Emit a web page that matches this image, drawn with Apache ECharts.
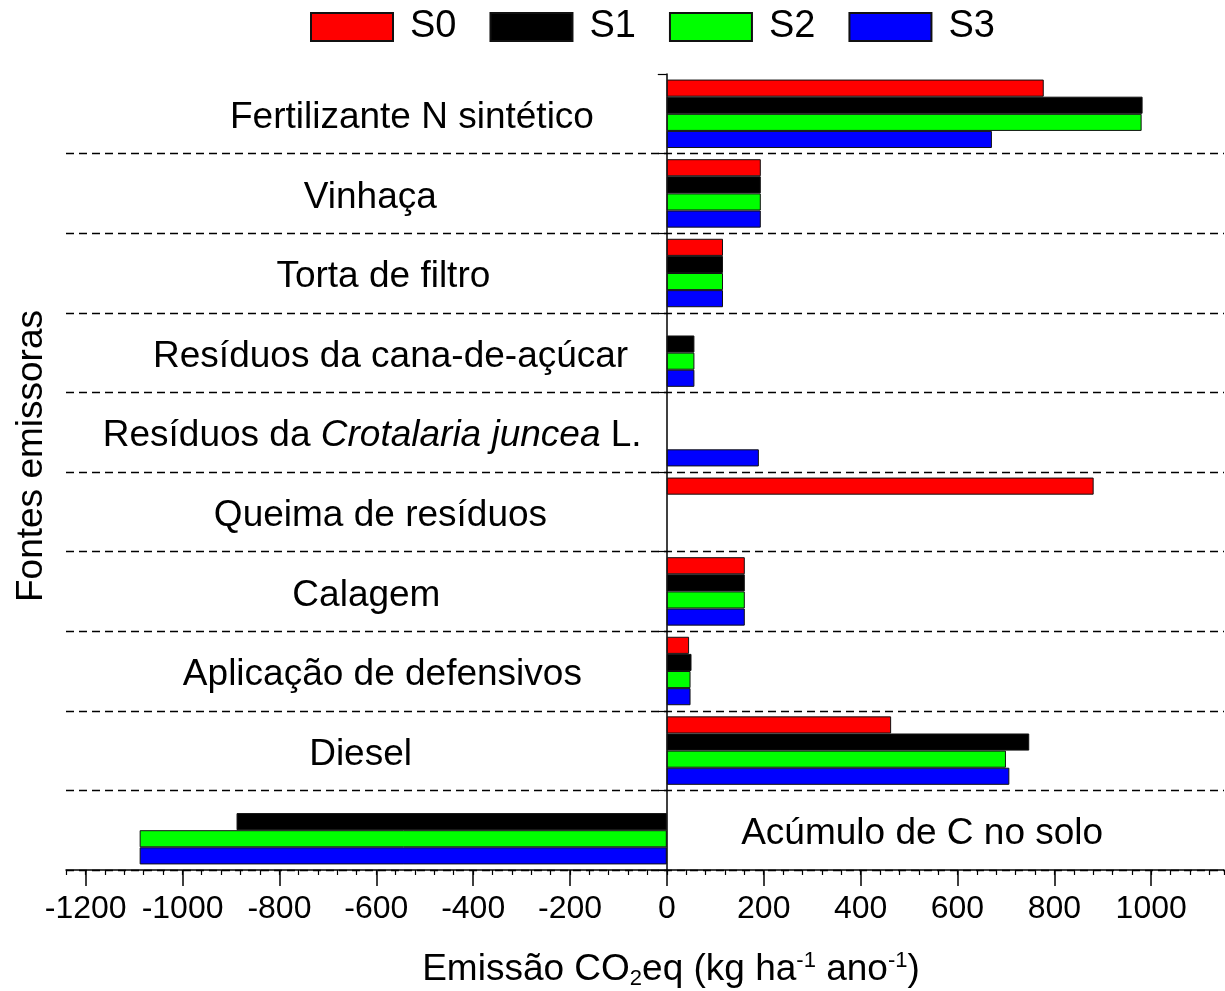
<!DOCTYPE html>
<html>
<head>
<meta charset="utf-8">
<script src="https://cdn.jsdelivr.net/npm/echarts@6/dist/echarts.min.js"></script>
<style>
html,body{margin:0;padding:0;background:#fff;}
#chart{width:1225px;height:991px;}
</style>
</head>
<body>
<div id="chart"></div>
<script>
// ---- data ----
const categories = [
  'Fertilizante N sintético',
  'Vinhaça',
  'Torta de filtro',
  'Resíduos da cana-de-açúcar',
  'Resíduos da Crotalaria juncea L.',
  'Queima de resíduos',
  'Calagem',
  'Aplicação de defensivos',
  'Diesel',
  'Acúmulo de C no solo'
];
const seriesNames = ['S0', 'S1', 'S2', 'S3'];
const S0 = [778, 194, 116, null, null, 881, 161, 46, 463, null];
const S1 = [982, 194, 116, 57, null, null, 161, 51, 748, -888];
const S2 = [980, 194, 116, 57, null, null, 161, 49, 700, -1088];
const S3 = [671, 194, 116, 57, 190, null, 161, 49, 707, -1088];
const xTickLabels = [-1200, -1000, -800, -600, -400, -200, 0, 200, 400, 600, 800, 1000];

// label texts (rich) and their anchor along the value axis
const labelTexts = [
  'Fertilizante N sintético',
  'Vinhaça',
  'Torta de filtro',
  'Resíduos da cana-de-açúcar',
  '{n|Resíduos da }{i|Crotalaria juncea}{n| L.}',
  'Queima de resíduos',
  'Calagem',
  'Aplicação de defensivos',
  'Diesel',
  'Acúmulo de C no solo'
];
const labelAnchorX = [-526, -612, -585, -570, -608, -591, -620, -587, -632, 527];

const colors = ['#ff0000', '#000000', '#00ff00', '#0000ff'];
const FONT = '"Liberation Sans", Arial, Helvetica, sans-serif';

const chart = echarts.init(document.getElementById('chart'), null, {renderer: 'canvas'});

const barSeries = [S0, S1, S2, S3].map((d, i) => ({
  name: seriesNames[i],
  type: 'bar',
  xAxisIndex: 0,
  yAxisIndex: 0,
  data: d,
  barGap: '0%',
  barCategoryGap: '14%',
  itemStyle: {color: colors[i], borderColor: '#111', borderWidth: 1},
  z: 3
}));

const option = {
  animation: false,
  backgroundColor: '#fff',
  textStyle: {fontFamily: FONT},
  legend: {
    top: 3,
    left: 305,
    itemWidth: 82,
    itemHeight: 28,
    itemGap: 33,
    icon: 'rect',
    data: seriesNames,
    textStyle: {fontSize: 38, color: '#000', fontFamily: FONT, padding: [0, 0, 0, 12]}
  },
  grid: [
    {left: 66, right: 1, top: 74, bottom: 121},
    {left: 85.7, right: 73.8, top: 74, bottom: 121}
  ],
  xAxis: [
    {
      gridIndex: 0,
      type: 'value',
      min: -1240,
      max: 1150,
      interval: 40,
      axisLine: {show: true, lineStyle: {color: '#000', width: 1.5}},
      axisTick: {show: true, length: 5, lineStyle: {color: '#000', width: 1.2}},
      axisLabel: {show: false},
      splitLine: {show: false}
    },
    {
      gridIndex: 1,
      type: 'value',
      min: xTickLabels[0],
      max: xTickLabels[xTickLabels.length - 1],
      interval: 200,
      axisLine: {show: false},
      axisTick: {show: true, length: 16, lineStyle: {color: '#000', width: 1.5}},
      axisLabel: {show: true, fontSize: 32, color: '#000', margin: 23, fontFamily: FONT,
                  formatter: v => String(v)},
      splitLine: {show: false}
    }
  ],
  yAxis: [
    {
      gridIndex: 0,
      type: 'category',
      inverse: true,
      data: categories,
      boundaryGap: true,
      axisLine: {show: true, onZero: true, lineStyle: {color: '#000', width: 1.5}},
      axisTick: {show: true, length: 9, lineStyle: {color: '#000', width: 1.2}},
      axisLabel: {show: false},
      splitLine: {
        show: true,
        interval: function (index) { return index !== 0; },
        lineStyle: {color: '#000', width: 1.3, type: [8, 5]}
      }
    },
    {
      gridIndex: 1,
      type: 'value',
      show: false
    }
  ],
  graphic: [
    {
      type: 'text',
      x: 671,
      y: 970,
      z: 10,
      style: {
        text: '{m|Emissão CO}{sub|2}{m|eq (kg ha}{sup|-1}{m| ano}{sup|-1}{m|)}',
        align: 'center',
        verticalAlign: 'middle',
        rich: {
          m: {fontSize: 37, fontFamily: FONT, fill: '#000', lineHeight: 40},
          sub: {fontSize: 22, fontFamily: FONT, fill: '#000', lineHeight: 10, verticalAlign: 'bottom'},
          sup: {fontSize: 22, fontFamily: FONT, fill: '#000', lineHeight: 10, verticalAlign: 'top'}
        }
      }
    },
    {
      type: 'text',
      x: 32,
      y: 456,
      rotation: Math.PI / 2,
      z: 10,
      style: {
        text: 'Fontes emissoras',
        font: '37px ' + FONT,
        fill: '#000',
        align: 'center',
        verticalAlign: 'middle'
      }
    }
  ],
  series: barSeries.concat([
    {
      type: 'scatter',
      name: 'labels',
      xAxisIndex: 0,
      yAxisIndex: 0,
      symbolSize: 0,
      silent: true,
      z: 5,
      itemStyle: {opacity: 1},
      data: categories.map((c, i) => [labelAnchorX[i], c]),
      label: {
        show: true,
        position: 'inside',
        offset: [0, 4],
        opacity: 1,
        formatter: p => labelTexts[p.dataIndex],
        fontSize: 37,
        color: '#000000',
        textBorderWidth: 0,
        fontFamily: FONT,
        rich: {
          n: {fontSize: 37, color: '#000000', fontFamily: FONT},
          i: {fontSize: 37, color: '#000000', fontFamily: FONT, fontStyle: 'italic'}
        }
      }
    }
  ])
};
chart.setOption(option);
</script>
</body>
</html>
